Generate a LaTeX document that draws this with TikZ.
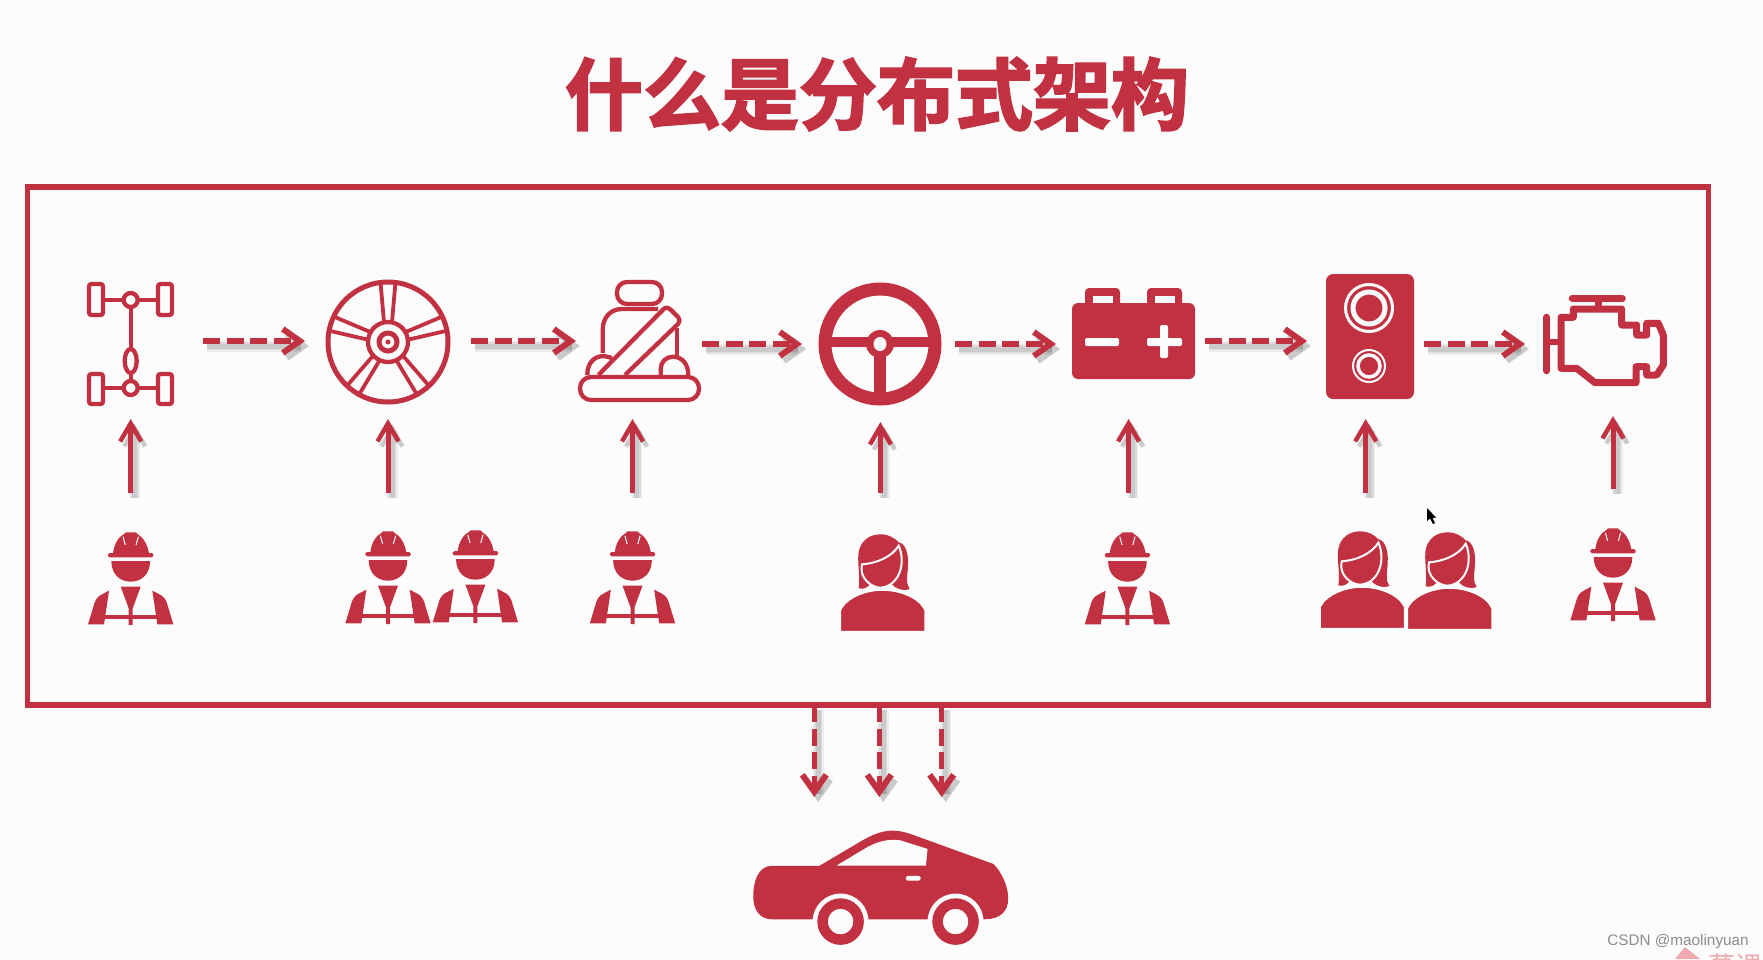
\documentclass[tikz,border=0pt]{standalone}
\usepackage{fontspec}
\usepackage{xcolor}
\setmainfont{Liberation Sans}
\newfontfamily\cjk{Noto Sans CJK SC}[BoldFont={Noto Sans CJK SC Bold},FakeBold=2.6]
\newfontfamily\cjkplain{Noto Sans CJK SC}
\usetikzlibrary{arrows.meta,positioning}
\definecolor{brandred}{HTML}{C13142}
\definecolor{paper}{HTML}{FDFCFC}
\definecolor{faintred}{HTML}{EFA9AF}

\tikzset{
  iconbox/.style={inner sep=0pt, outer sep=0pt},
  thinline/.style={draw=brandred, line width=4.3pt, fill=none},
  arrowshade/.style={
    preaction={draw=black, opacity=.06, line width=11pt, transform canvas={shift={(4pt,-5pt)}}},
    preaction={draw=black, opacity=.07, line width=8pt, transform canvas={shift={(4pt,-5pt)}}},
    preaction={draw=black, opacity=.08, line width=5pt, transform canvas={shift={(4pt,-5pt)}}}},
  dasharrow/.style={draw=brandred, line width=5.5pt, dash pattern=on 17pt off 6.5pt, arrowshade,
    -{Straight Barb[length=17pt,width=24pt,line width=6pt]}},
  uparrow/.style={draw=brandred, line width=5pt, arrowshade,
    -{Straight Barb[length=18pt,width=21pt,line width=4.5pt]}},
  worker/.pic={
    \begin{scope}[x=0.3333pt,y=-0.3333pt,shift={(-150,0)}]
    \fill[brandred] (97,85) .. controls (100,55) and (115,35) .. (130,27) -- (135,22) -- (165,22) -- (170,27) .. controls (185,35) and (200,55) .. (205,85) -- cycle;
    \fill[brandred, rounded corners=1.5pt] (82,84) rectangle (218,97);
    \draw[paper, line width=1pt] (127,35) -- (134,60) (173,35) -- (166,60);
    \fill[brandred] (92,108) -- (208,108) .. controls (208,150) and (180,170) .. (150,170) .. controls (120,170) and (92,150) .. (92,108) -- cycle;
    \fill[brandred] (120,185) -- (180,185) -- (156,250) -- (156,300) -- (144,300) -- (144,250) -- cycle;
    \fill[brandred] (70,270) rectangle (230,283);
    \fill[brandred] (22,298) -- (42,232) .. controls (50,215) .. (85,197) -- (70,298) -- cycle;
    \fill[brandred] (278,298) -- (258,232) .. controls (250,215) .. (215,197) -- (230,298) -- cycle;
    \end{scope}
  },
  woman/.pic={
    \begin{scope}[x=0.3333pt,y=-0.3333pt,shift={(-158,0)}]
    \fill[brandred] (85,190) .. controls (90,150) and (80,110) .. (85,80) .. controls (92,45) and (120,28) .. (150,28) .. controls (175,28) and (195,40) .. (205,52) .. controls (225,55) and (235,85) .. (233,120) .. controls (232,150) and (225,175) .. (238,192) .. controls (215,200) and (195,190) .. (185,178) -- (120,175) .. controls (115,185) and (100,195) .. (85,190) -- cycle;
    \draw[paper, line width=1.5pt, fill=brandred] (30,320) -- (30,255) .. controls (50,215) and (110,195) .. (155,195) .. controls (205,195) and (265,215) .. (284,255) -- (284,320) -- cycle;
    \draw[paper, line width=2pt, fill=brandred] (95,118) .. controls (140,115) and (185,95) .. (205,62) .. controls (218,90) and (218,130) .. (200,158) .. controls (185,180) and (165,188) .. (150,188) .. controls (125,188) and (85,160) .. (95,118) -- cycle;
    \end{scope}
  },
  spoke/.pic={
    \draw[thinline, line width=3.8pt] (4,-20) -- (7.5,-60) (-4,-20) -- (-7.5,-60);
  }
}

\begin{document}
\begin{tikzpicture}[x=1pt,y=-1pt,>=Latex]
\useasboundingbox (0,0) rectangle (1763,959);
\fill[paper] (0,0) rectangle (1763,959);

\node[iconbox, font=\cjk\bfseries\fontsize{78}{80}\selectfont, text=brandred] (title) at (877,94) {什么是分布式架构};
\node[iconbox, draw=brandred, line width=5.5pt, minimum width=1681pt, minimum height=518pt] (frame) at (868,446) {};

% parts, the boxes only carry the arrow ends
\node[iconbox, minimum width=144.6pt, minimum height=156pt] (axle) at (130.7,341) {};
\node[iconbox, minimum width=166pt, minimum height=156pt] (wheel) at (388,341) {};
\node[iconbox, minimum width=126pt, minimum height=156pt] (seat) at (639,341) {};
\node[iconbox, minimum width=153pt, minimum height=156pt] (steer) at (878.5,344) {};
\node[iconbox, minimum width=149pt, minimum height=156pt] (battery) at (1130.5,341) {};
\node[iconbox, minimum width=117pt, minimum height=156pt] (speaker) at (1365.5,341) {};
\node[iconbox, minimum width=176pt, minimum height=144pt] (engine) at (1613,344) {};
\node[iconbox, minimum width=90pt, minimum height=164pt] (man1) at (130.7,575) {};
\node[iconbox, minimum width=90pt, minimum height=164pt] (man2) at (388,575) {};
\node[iconbox, minimum width=90pt, minimum height=164pt] (man3) at (632.5,575) {};
\node[iconbox, minimum width=90pt, minimum height=164pt] (girl1) at (880.4,575) {};
\node[iconbox, minimum width=90pt, minimum height=164pt] (man4) at (1128.6,575) {};
\node[iconbox, minimum width=90pt, minimum height=164pt] (girl2) at (1365.7,575) {};
\node[iconbox, minimum width=90pt, minimum height=164pt] (man5) at (1613,571) {};
\node[iconbox, minimum width=256pt, minimum height=150pt] (car) at (868,872) {};

% axle
\draw[thinline, rounded corners=2.5pt] (89,284) rectangle (103,315);
\draw[thinline, rounded corners=2.5pt] (158,284) rectangle (172,315);
\draw[thinline, rounded corners=2.5pt] (89,374) rectangle (103,404);
\draw[thinline, rounded corners=2.5pt] (158,374) rectangle (172,404);
\draw[thinline] (103,300) -- (122,300) (139,300) -- (158,300) (103,388) -- (122,388) (139,388) -- (158,388);
\draw[thinline] (130.7,308) -- (130.7,349) (130.7,373) -- (130.7,380);
\draw[thinline] (130.7,300) circle (7);
\draw[thinline] (130.7,388) circle (7);
\draw[thinline] (130.7,361) ellipse (6 and 12);

% wheel
\draw[thinline, line width=5pt] (388,342) circle (60);
\draw[thinline] (388,342) circle (20);
\draw[thinline, line width=5pt] (388,342) circle (9);
\fill[brandred] (388,342) circle (2.5);
\pic[rotate=0] at (388,342) {spoke};
\pic[rotate=72] at (388,342) {spoke};
\pic[rotate=144] at (388,342) {spoke};
\pic[rotate=216] at (388,342) {spoke};
\pic[rotate=288] at (388,342) {spoke};

% seat
\draw[thinline, rounded corners=10pt] (617,282) rectangle (662,304);
\draw[thinline] (602.7,353) -- (602.7,330) .. controls (602.7,318) and (610,309) .. (622,309) -- (658,309);
\draw[thinline] (677,328) -- (677,358);
\draw[thinline, line join=round] (598.3,375) -- (662.7,310) .. controls (665,307) and (668,307) .. (671,310) -- (678,317) .. controls (680,320) and (680,322) .. (678,324) -- (625,375);
\draw[thinline] (587.3,375) .. controls (587.3,362) and (595,356) .. (604,356) -- (612,358);
\draw[thinline] (660.7,375) -- (660.7,369) .. controls (660.7,362) and (666,356.7) .. (673,356.7) .. controls (682,356.7) and (688.3,364) .. (688.3,375);
\draw[thinline, rounded corners=11pt] (580,377) rectangle (699,400);

% steering wheel
\draw[brandred, line width=13pt] (880,344) circle (55);
\fill[brandred] (880,344) circle (14);
\fill[brandred] (825,337) rectangle (935,347);
\fill[brandred] (874,344) rectangle (886,400);
\fill[paper] (880,344) ellipse (6.5 and 7);

% battery
\fill[brandred, rounded corners=4pt] (1085,288) rectangle (1120,310);
\fill[brandred, rounded corners=4pt] (1147,288) rectangle (1182,310);
\fill[paper] (1093,296) rectangle (1113,303);
\fill[paper] (1155,296) rectangle (1175,303);
\fill[brandred, rounded corners=6pt] (1072,303) rectangle (1195,379);
\fill[paper, rounded corners=2pt] (1085,338) rectangle (1119,346);
\fill[paper, rounded corners=2pt] (1147,338) rectangle (1182,346);
\fill[paper, rounded corners=2pt] (1160,325) rectangle (1168,358);

% speaker
\fill[brandred, rounded corners=7pt] (1326,274) rectangle (1414,399);
\draw[paper, line width=3pt] (1369,308) circle (23.5);
\draw[paper, line width=5pt] (1369,308) circle (16);
\draw[paper, line width=2pt] (1369,366) circle (16);
\draw[paper, line width=3.5pt] (1369,366) circle (11);

% engine
\draw[brandred, line width=7pt, line join=round] (1561,317.3) -- (1573.3,317.3) -- (1573.3,309) -- (1621.7,309) -- (1621.7,325) -- (1636.7,325) -- (1636.7,335) -- (1646.7,335) -- (1646.7,323.3) -- (1658.3,323.3) -- (1663.3,335) -- (1663.3,365) -- (1656.7,375) -- (1646.7,375) -- (1646.7,366.7) -- (1636,366.7) -- (1636,382.7) -- (1595,382.7) -- (1576.7,368.3) -- (1561,368.3) -- cycle;
\draw[brandred, line width=6.5pt, line cap=round] (1546.7,317) -- (1546.7,371);
\draw[brandred, line width=6.5pt] (1546.7,342) -- (1561,342);
\draw[brandred, line width=6.5pt, line cap=round] (1572,298.3) -- (1622.5,298.3);
\draw[brandred, line width=7pt] (1598,300) -- (1598,309);

% people
\pic at (130.7,525) {worker};
\pic at (388,524) {worker};
\pic at (475.4,523) {worker};
\pic at (632.5,524) {worker};
\pic at (1127.4,525) {worker};
\pic at (1613,521) {worker};
\pic at (883,525) {woman};
\pic at (1362.7,522) {woman};
\pic at (1450,523) {woman};

% car
\begin{scope}[x=0.3333pt,y=-0.3333pt,shift={(2100,2070)}]
\fill[brandred] (215,528) -- (358,528) -- (490,450) .. controls (530,428) and (555,422) .. (580,422) .. controls (600,422) and (620,428) .. (640,435) -- (880,522) .. controls (905,545) and (925,590) .. (925,625) .. controls (925,665) and (900,688) .. (855,688) -- (215,688) .. controls (180,688) and (160,660) .. (160,620) .. controls (160,565) and (180,528) .. (215,528) -- cycle;
\fill[paper] (410,527) -- (505,470) .. controls (540,452) and (570,447) .. (600,451) -- (683,477) -- (678,527) -- cycle;
\fill[paper, rounded corners=1.5pt] (618,558) rectangle (662,572);
\fill[paper] (422,695) circle (28pt);
\fill[paper] (767,695) circle (28pt);
\draw[brandred, line width=10.5pt] (422,695) circle (18pt);
\draw[brandred, line width=10.5pt] (767,695) circle (18pt);
\end{scope}

% cursor
\fill[black] (1427,508) -- (1427,521) -- (1430,518.5) -- (1433,524) -- (1435,523) -- (1432.5,518) -- (1436,517.5) -- cycle;

% chain of parts
\draw[dasharrow] (axle.east) -- (axle.east -| wheel.west);
\draw[dasharrow] (wheel.east) -- (seat.west);
\draw[dasharrow] (seat.east |- steer) -- (steer.west);
\draw[dasharrow] (steer.east) -- (battery.west |- steer);
\draw[dasharrow] (battery.east) -- (speaker.west);
\draw[dasharrow] (speaker.east |- engine) -- (engine.west);

\draw[uparrow] (man1.north) -- (man1.north |- axle.south);
\draw[uparrow] (man2.north) -- (man2.north |- wheel.south);
\draw[uparrow] (man3.north) -- (man3.north |- seat.south);
\draw[uparrow] (girl1.north) -- (girl1.north |- steer.south);
\draw[uparrow] (man4.north) -- (man4.north |- battery.south);
\draw[uparrow] (girl2.north) -- (girl2.north |- speaker.south);
\draw[uparrow] (man5.north) -- (man5.north |- engine.south);

\draw[dasharrow] ([xshift=-53.7pt]frame.south) -- ([xshift=-53.7pt]car.north);
\draw[dasharrow] ([xshift=11.3pt]frame.south) -- ([xshift=11.3pt]car.north);
\draw[dasharrow] ([xshift=73.7pt]frame.south) -- ([xshift=73.7pt]car.north);

% logo cut by the page edge
\begin{scope}
\clip (1660,930) rectangle (1763,959);
\fill[faintred] (1685,947) -- (1700,959) -- (1675,959) -- cycle;
\node[iconbox, text=faintred, font=\cjkplain\fontsize{27}{28}\selectfont] (logo) at (1735,966) {慕课};
\end{scope}
\node[iconbox, text=black!45, font=\fontsize{15.3}{16}\selectfont] (mark) at (1678,942) {CSDN @maolinyuan};
\end{tikzpicture}
\end{document}
